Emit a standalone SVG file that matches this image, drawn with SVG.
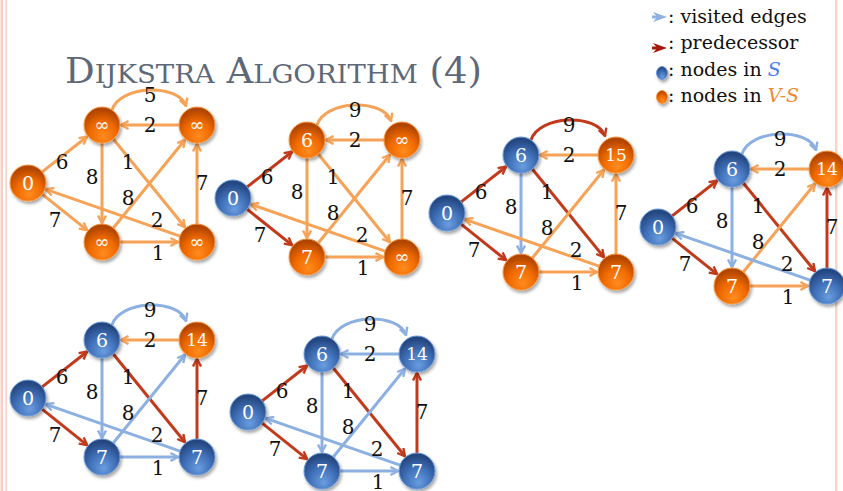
<svg xmlns="http://www.w3.org/2000/svg" width="843" height="491" viewBox="0 0 843 491">
<style>
  .e path{fill:none;stroke-width:3}
  .o{stroke:#f6a257;marker-end:url(#ao)}
  .r{stroke:#c23a1c;marker-end:url(#ar)}
  .b{stroke:#8db0e2;marker-end:url(#ab)}
  .no{fill:url(#go);stroke:#f79a45;stroke-width:1;filter:url(#sh)}
  .nb{fill:url(#gb);stroke:#6f9cd8;stroke-width:1;filter:url(#sh)}
  .nt{font-family:"DejaVu Serif","Liberation Serif",serif;font-size:19px;fill:#fff;text-anchor:middle}
  .inf{font-size:18px}
  .two{font-size:17px}
  .lb{font-family:"DejaVu Serif","Liberation Serif",serif;font-size:20px;fill:#111;text-anchor:middle}
  .lg{font-family:"DejaVu Serif","Liberation Serif",serif;font-size:19px;fill:#111}
</style>
<defs>
  <radialGradient id="go" cx="50%" cy="72%" r="65%" fx="55%" fy="82%">
    <stop offset="0" stop-color="#ff8c1e"/>
    <stop offset="0.55" stop-color="#f06a00"/>
    <stop offset="1" stop-color="#b04400"/>
  </radialGradient>
  <radialGradient id="gb" cx="50%" cy="72%" r="65%" fx="55%" fy="82%">
    <stop offset="0" stop-color="#6a9de0"/>
    <stop offset="0.55" stop-color="#4070b8"/>
    <stop offset="1" stop-color="#24467f"/>
  </radialGradient>
  <filter id="sh" x="-40%" y="-40%" width="190%" height="190%">
    <feDropShadow dx="1.5" dy="2.5" stdDeviation="1.5" flood-color="#000" flood-opacity="0.35"/>
  </filter>
  <marker id="ao" viewBox="0 0 10 10" refX="9" refY="5" markerWidth="10" markerHeight="10" markerUnits="userSpaceOnUse" orient="auto">
    <path d="M1.5,1 L9,5 L1.5,9" fill="none" stroke="#f6a257" stroke-width="2.4"/>
  </marker>
  <marker id="ar" viewBox="0 0 10 10" refX="9" refY="5" markerWidth="10" markerHeight="10" markerUnits="userSpaceOnUse" orient="auto">
    <path d="M1.5,1 L9,5 L1.5,9" fill="none" stroke="#c23a1c" stroke-width="2.4"/>
  </marker>
  <marker id="ab" viewBox="0 0 10 10" refX="9" refY="5" markerWidth="10" markerHeight="10" markerUnits="userSpaceOnUse" orient="auto">
    <path d="M1.5,1 L9,5 L1.5,9" fill="none" stroke="#8db0e2" stroke-width="2.4"/>
  </marker>
</defs>

<rect width="843" height="491" fill="#fff"/>
<rect x="0.5" y="0" width="2.5" height="491" fill="#f9cfc3"/>
<rect x="5.5" y="0" width="1.2" height="491" fill="#f6c2b4"/>
<rect x="835" y="0" width="2.5" height="491" fill="#fbd3c7"/>

<text x="65" y="83" fill="#5d6878" font-family="DejaVu Serif, Liberation Serif, serif" textLength="417" lengthAdjust="spacingAndGlyphs"><tspan font-size="35">D</tspan><tspan font-size="26">IJKSTRA</tspan><tspan font-size="35"> A</tspan><tspan font-size="26">LGORITHM</tspan><tspan font-size="35"> (4)</tspan></text>

<g id="legend">
  <path d="M652,15.5 L656,15.5 L653,12 L667,17 L653,22 L656,18.5 L652,18.5 Z" fill="#8fb0e0"/>
  <text class="lg" x="668" y="23">: visited edges</text>
  <path d="M652,46.5 L656,46.5 L653,43 L667,48 L653,53 L656,49.5 L652,49.5 Z" fill="#a3190c"/>
  <text class="lg" x="668" y="49">: predecessor</text>
  <ellipse cx="662" cy="73" rx="5.5" ry="6.5" class="nb"/>
  <text class="lg" x="668" y="75.5">: nodes in <tspan font-style="italic" fill="#4a7ee8">S</tspan></text>
  <ellipse cx="662" cy="97" rx="5.5" ry="6.5" class="no"/>
  <text class="lg" x="668" y="101.5">: nodes in <tspan font-style="italic" fill="#f0883a">V-S</tspan></text>
</g>

<!-- Graph 1 -->
<g id="graph1" transform="translate(28,183)">
  <g class="e" id="g1-connectors">
    <path class="o" d="M14.2,-11.1 L59,-46.3"/>
    <path class="o" d="M14.1,11.2 L59.1,47.2"/>
    <path class="o" d="M74,-40 L74,40"/>
    <path class="o" d="M85.3,-44 L157,44.3"/>
    <path class="o" d="M151,-58 L93,-58"/>
    <path class="o" d="M85.3,45 L157,-43.3"/>
    <path class="o" d="M152,53.1 L17.9,6.3"/>
    <path class="o" d="M92,59 L150,59"/>
    <path class="o" d="M169,41 L169,-39"/>
    <path class="o" d="M84,-73 C92,-98 150,-100 158,-77"/>
  </g>
  <g id="g1-s"><circle class="no" cx="0" cy="0" r="18"/><text class="nt" x="0" y="7">0</text></g>
  <g id="g1-u"><circle class="no" cx="74" cy="-58" r="18"/><text class="nt inf" x="74" y="-52">∞</text></g>
  <g id="g1-v"><circle class="no" cx="169" cy="-58" r="18"/><text class="nt inf" x="169" y="-52">∞</text></g>
  <g id="g1-x"><circle class="no" cx="74" cy="59" r="18"/><text class="nt inf" x="74" y="65">∞</text></g>
  <g id="g1-y"><circle class="no" cx="169" cy="59" r="18"/><text class="nt inf" x="169" y="65">∞</text></g>
  <g id="g1-labels">
    <text class="lb" x="122" y="-81">5</text>
    <text class="lb" x="122" y="-51">2</text>
    <text class="lb" x="34" y="-14">6</text>
    <text class="lb" x="64" y="1">8</text>
    <text class="lb" x="100" y="-14">1</text>
    <text class="lb" x="100" y="22">8</text>
    <text class="lb" x="129" y="44">2</text>
    <text class="lb" x="27" y="44">7</text>
    <text class="lb" x="174" y="7">7</text>
    <text class="lb" x="130" y="77">1</text>
  </g>
</g>

<!-- Graph 2 -->
<g id="graph2" transform="translate(233,198)">
  <g class="e" id="g2-connectors">
    <path class="r" d="M14.2,-11.1 L59,-46.3"/>
    <path class="r" d="M14.1,11.2 L59.1,47.2"/>
    <path class="o" d="M74,-40 L74,40"/>
    <path class="o" d="M85.3,-44 L157,44.3"/>
    <path class="o" d="M151,-58 L93,-58"/>
    <path class="o" d="M85.3,45 L157,-43.3"/>
    <path class="o" d="M152,53.1 L17.9,6.3"/>
    <path class="o" d="M92,59 L150,59"/>
    <path class="o" d="M169,41 L169,-39"/>
    <path class="o" d="M84,-73 C92,-98 150,-100 158,-77"/>
  </g>
  <g id="g2-s"><circle class="nb" cx="0" cy="0" r="18"/><text class="nt" x="0" y="7">0</text></g>
  <g id="g2-u"><circle class="no" cx="74" cy="-58" r="18"/><text class="nt" x="74" y="-51">6</text></g>
  <g id="g2-v"><circle class="no" cx="169" cy="-58" r="18"/><text class="nt inf" x="169" y="-52">∞</text></g>
  <g id="g2-x"><circle class="no" cx="74" cy="59" r="18"/><text class="nt" x="74" y="66">7</text></g>
  <g id="g2-y"><circle class="no" cx="169" cy="59" r="18"/><text class="nt inf" x="169" y="65">∞</text></g>
  <g id="g2-labels">
    <text class="lb" x="122" y="-81">9</text>
    <text class="lb" x="122" y="-51">2</text>
    <text class="lb" x="34" y="-14">6</text>
    <text class="lb" x="64" y="1">8</text>
    <text class="lb" x="100" y="-14">1</text>
    <text class="lb" x="100" y="22">8</text>
    <text class="lb" x="129" y="44">2</text>
    <text class="lb" x="27" y="44">7</text>
    <text class="lb" x="174" y="7">7</text>
    <text class="lb" x="130" y="77">1</text>
  </g>
</g>

<!-- Graph 3 -->
<g id="graph3" transform="translate(447,213)">
  <g class="e" id="g3-connectors">
    <path class="r" d="M14.2,-11.1 L59,-46.3"/>
    <path class="r" d="M14.1,11.2 L59.1,47.2"/>
    <path class="b" d="M74,-40 L74,40"/>
    <path class="r" d="M85.3,-44 L157,44.3"/>
    <path class="o" d="M151,-58 L93,-58"/>
    <path class="o" d="M85.3,45 L157,-43.3"/>
    <path class="o" d="M152,53.1 L17.9,6.3"/>
    <path class="o" d="M92,59 L150,59"/>
    <path class="o" d="M169,41 L169,-39"/>
    <path class="r" d="M84,-73 C92,-98 150,-100 158,-77"/>
  </g>
  <g id="g3-s"><circle class="nb" cx="0" cy="0" r="18"/><text class="nt" x="0" y="7">0</text></g>
  <g id="g3-u"><circle class="nb" cx="74" cy="-58" r="18"/><text class="nt" x="74" y="-51">6</text></g>
  <g id="g3-v"><circle class="no" cx="169" cy="-58" r="18"/><text class="nt two" x="169" y="-52">15</text></g>
  <g id="g3-x"><circle class="no" cx="74" cy="59" r="18"/><text class="nt" x="74" y="66">7</text></g>
  <g id="g3-y"><circle class="no" cx="169" cy="59" r="18"/><text class="nt" x="169" y="66">7</text></g>
  <g id="g3-labels">
    <text class="lb" x="122" y="-81">9</text>
    <text class="lb" x="122" y="-51">2</text>
    <text class="lb" x="34" y="-14">6</text>
    <text class="lb" x="64" y="1">8</text>
    <text class="lb" x="100" y="-14">1</text>
    <text class="lb" x="100" y="22">8</text>
    <text class="lb" x="129" y="44">2</text>
    <text class="lb" x="27" y="44">7</text>
    <text class="lb" x="174" y="7">7</text>
    <text class="lb" x="130" y="77">1</text>
  </g>
</g>

<!-- Graph 4 -->
<g id="graph4" transform="translate(658,227)">
  <g class="e" id="g4-connectors">
    <path class="r" d="M14.2,-11.1 L59,-46.3"/>
    <path class="r" d="M14.1,11.2 L59.1,47.2"/>
    <path class="b" d="M74,-40 L74,40"/>
    <path class="r" d="M85.3,-44 L157,44.3"/>
    <path class="o" d="M151,-58 L93,-58"/>
    <path class="o" d="M85.3,45 L157,-43.3"/>
    <path class="b" d="M152,53.1 L17.9,6.3"/>
    <path class="o" d="M92,59 L150,59"/>
    <path class="r" d="M169,41 L169,-39"/>
    <path class="b" d="M84,-73 C92,-98 150,-100 158,-77"/>
  </g>
  <g id="g4-s"><circle class="nb" cx="0" cy="0" r="18"/><text class="nt" x="0" y="7">0</text></g>
  <g id="g4-u"><circle class="nb" cx="74" cy="-58" r="18"/><text class="nt" x="74" y="-51">6</text></g>
  <g id="g4-v"><circle class="no" cx="169" cy="-58" r="18"/><text class="nt two" x="169" y="-52">14</text></g>
  <g id="g4-x"><circle class="no" cx="74" cy="59" r="18"/><text class="nt" x="74" y="66">7</text></g>
  <g id="g4-y"><circle class="nb" cx="169" cy="59" r="18"/><text class="nt" x="169" y="66">7</text></g>
  <g id="g4-labels">
    <text class="lb" x="122" y="-81">9</text>
    <text class="lb" x="122" y="-51">2</text>
    <text class="lb" x="34" y="-14">6</text>
    <text class="lb" x="64" y="1">8</text>
    <text class="lb" x="100" y="-14">1</text>
    <text class="lb" x="100" y="22">8</text>
    <text class="lb" x="129" y="44">2</text>
    <text class="lb" x="27" y="44">7</text>
    <text class="lb" x="174" y="7">7</text>
    <text class="lb" x="130" y="77">1</text>
  </g>
</g>

<!-- Graph 5 -->
<g id="graph5" transform="translate(28,398)">
  <g class="e" id="g5-connectors">
    <path class="r" d="M14.2,-11.1 L59,-46.3"/>
    <path class="r" d="M14.1,11.2 L59.1,47.2"/>
    <path class="b" d="M74,-40 L74,40"/>
    <path class="r" d="M85.3,-44 L157,44.3"/>
    <path class="o" d="M151,-58 L93,-58"/>
    <path class="b" d="M85.3,45 L157,-43.3"/>
    <path class="b" d="M152,53.1 L17.9,6.3"/>
    <path class="b" d="M92,59 L150,59"/>
    <path class="r" d="M169,41 L169,-39"/>
    <path class="b" d="M84,-73 C92,-98 150,-100 158,-77"/>
  </g>
  <g id="g5-s"><circle class="nb" cx="0" cy="0" r="18"/><text class="nt" x="0" y="7">0</text></g>
  <g id="g5-u"><circle class="nb" cx="74" cy="-58" r="18"/><text class="nt" x="74" y="-51">6</text></g>
  <g id="g5-v"><circle class="no" cx="169" cy="-58" r="18"/><text class="nt two" x="169" y="-52">14</text></g>
  <g id="g5-x"><circle class="nb" cx="74" cy="59" r="18"/><text class="nt" x="74" y="66">7</text></g>
  <g id="g5-y"><circle class="nb" cx="169" cy="59" r="18"/><text class="nt" x="169" y="66">7</text></g>
  <g id="g5-labels">
    <text class="lb" x="122" y="-81">9</text>
    <text class="lb" x="122" y="-51">2</text>
    <text class="lb" x="34" y="-14">6</text>
    <text class="lb" x="64" y="1">8</text>
    <text class="lb" x="100" y="-14">1</text>
    <text class="lb" x="100" y="22">8</text>
    <text class="lb" x="129" y="44">2</text>
    <text class="lb" x="27" y="44">7</text>
    <text class="lb" x="174" y="7">7</text>
    <text class="lb" x="130" y="77">1</text>
  </g>
</g>

<!-- Graph 6 -->
<g id="graph6" transform="translate(248,412)">
  <g class="e" id="g6-connectors">
    <path class="r" d="M14.2,-11.1 L59,-46.3"/>
    <path class="r" d="M14.1,11.2 L59.1,47.2"/>
    <path class="b" d="M74,-40 L74,40"/>
    <path class="r" d="M85.3,-44 L157,44.3"/>
    <path class="b" d="M151,-58 L93,-58"/>
    <path class="b" d="M85.3,45 L157,-43.3"/>
    <path class="b" d="M152,53.1 L17.9,6.3"/>
    <path class="b" d="M92,59 L150,59"/>
    <path class="r" d="M169,41 L169,-39"/>
    <path class="b" d="M84,-73 C92,-98 150,-100 158,-77"/>
  </g>
  <g id="g6-s"><circle class="nb" cx="0" cy="0" r="18"/><text class="nt" x="0" y="7">0</text></g>
  <g id="g6-u"><circle class="nb" cx="74" cy="-58" r="18"/><text class="nt" x="74" y="-51">6</text></g>
  <g id="g6-v"><circle class="nb" cx="169" cy="-58" r="18"/><text class="nt two" x="169" y="-52">14</text></g>
  <g id="g6-x"><circle class="nb" cx="74" cy="59" r="18"/><text class="nt" x="74" y="66">7</text></g>
  <g id="g6-y"><circle class="nb" cx="169" cy="59" r="18"/><text class="nt" x="169" y="66">7</text></g>
  <g id="g6-labels">
    <text class="lb" x="122" y="-81">9</text>
    <text class="lb" x="122" y="-51">2</text>
    <text class="lb" x="34" y="-14">6</text>
    <text class="lb" x="64" y="1">8</text>
    <text class="lb" x="100" y="-14">1</text>
    <text class="lb" x="100" y="22">8</text>
    <text class="lb" x="129" y="44">2</text>
    <text class="lb" x="27" y="44">7</text>
    <text class="lb" x="174" y="7">7</text>
    <text class="lb" x="130" y="77">1</text>
  </g>
</g>
</svg>
